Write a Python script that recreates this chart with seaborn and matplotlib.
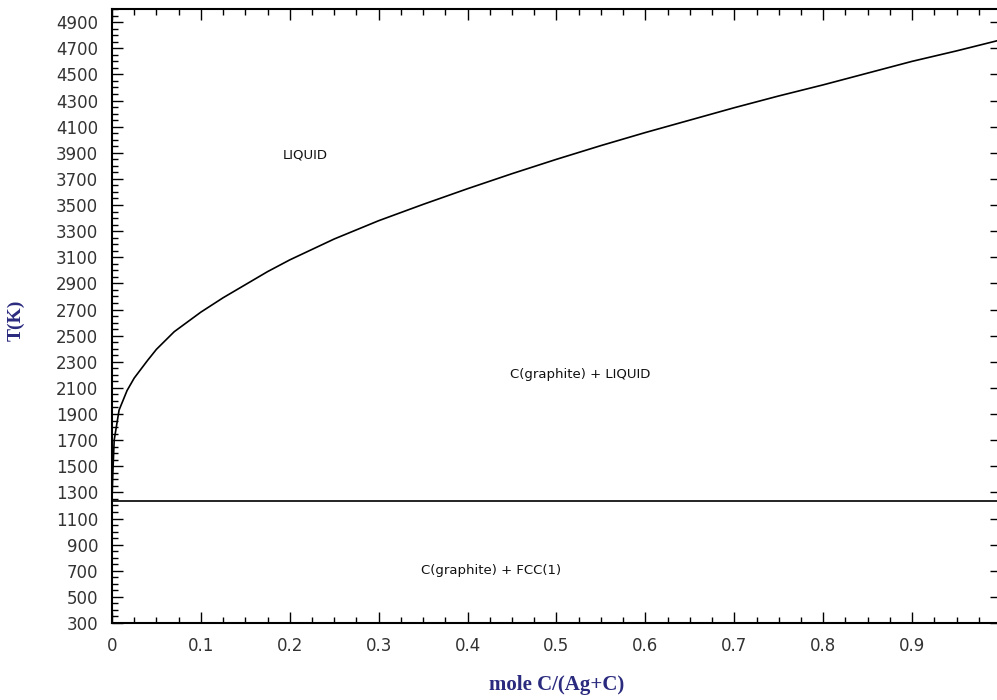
import pandas as pd
import matplotlib
matplotlib.use("Agg")
import matplotlib.pyplot as plt
from matplotlib.ticker import FixedLocator, MultipleLocator
import seaborn as sns

sns.set_theme(style="ticks")
plt.rcParams["font.family"] = ["DejaVu Sans"]

# liquidus
x_c = [0.0, 0.001, 0.0025, 0.008, 0.017, 0.025, 0.04, 0.05, 0.07, 0.1, 0.125,
       0.15, 0.175, 0.2, 0.25, 0.3, 0.35, 0.4, 0.45, 0.5, 0.55, 0.6, 0.65,
       0.7, 0.75, 0.8, 0.85, 0.9, 0.95, 1.0]
t_liq = [1235, 1450, 1700, 1930, 2080, 2175, 2310, 2395, 2530, 2680, 2790,
         2890, 2990, 3080, 3240, 3380, 3505, 3625, 3740, 3850, 3955, 4055, 4150,
         4245, 4335, 4420, 4510, 4600, 4680, 4765]
t_eutectic = 1235

y_ticks = list(range(300, 5000, 200))
x_ticks = [0, 0.1, 0.2, 0.3, 0.4, 0.5, 0.6, 0.7, 0.8, 0.9]
x_ticklabels = ["0", "0.1", "0.2", "0.3", "0.4", "0.5", "0.6", "0.7", "0.8", "0.9"]

region_names = ["LIQUID", "C(graphite) + LIQUID", "C(graphite) + FCC(1)"]
region_x = [0.217, 0.527, 0.426]
region_t = [3880, 2200, 705]

df = pd.DataFrame({"x": x_c, "T": t_liq})

fig = plt.figure(figsize=(9.97, 7), dpi=100)
ax = fig.add_axes([0.1123, 0.11, 0.8917, 0.877])

sns.lineplot(data=df, x="x", y="T", color="black", linewidth=1.2, ax=ax)
ax.axhline(t_eutectic, color="black", linewidth=1.2)

for name, xx, tt in zip(region_names, region_x, region_t):
    ax.text(xx, tt, name, ha="center", va="center", fontsize=9.5, color="#111111")

ax.set_xlim(0, 1.0)
ax.set_ylim(300, 5000)
ax.yaxis.set_major_locator(FixedLocator(y_ticks))
ax.yaxis.set_minor_locator(MultipleLocator(50))
ax.set_xticks(x_ticks)
ax.set_xticklabels(x_ticklabels)
ax.xaxis.set_minor_locator(MultipleLocator(0.025))

ax.tick_params(axis="both", which="major", direction="in", length=8, width=1,
               labelsize=12, labelcolor="#333333", color="black")
ax.tick_params(axis="both", which="minor", direction="in", length=4, width=1, color="black")
ax.tick_params(axis="x", which="both", top=True, pad=10)
ax.tick_params(axis="y", which="major", right=True, pad=10)
ax.tick_params(axis="y", which="minor", right=False)
for s in ax.spines.values():
    s.set_linewidth(1.5)
    s.set_color("black")

lab_color = "#2a2a7e"
ax.set_xlabel("mole C/(Ag+C)", fontsize=15, fontweight="bold",
              family="Liberation Serif", color=lab_color)
ax.set_ylabel("T(K)", fontsize=14, fontweight="bold",
              family="Liberation Serif", color=lab_color)
ax.xaxis.set_label_coords(0.5, -0.085)
ax.yaxis.set_label_coords(-0.098, 0.493)

fig.savefig("out.png", dpi=100)
